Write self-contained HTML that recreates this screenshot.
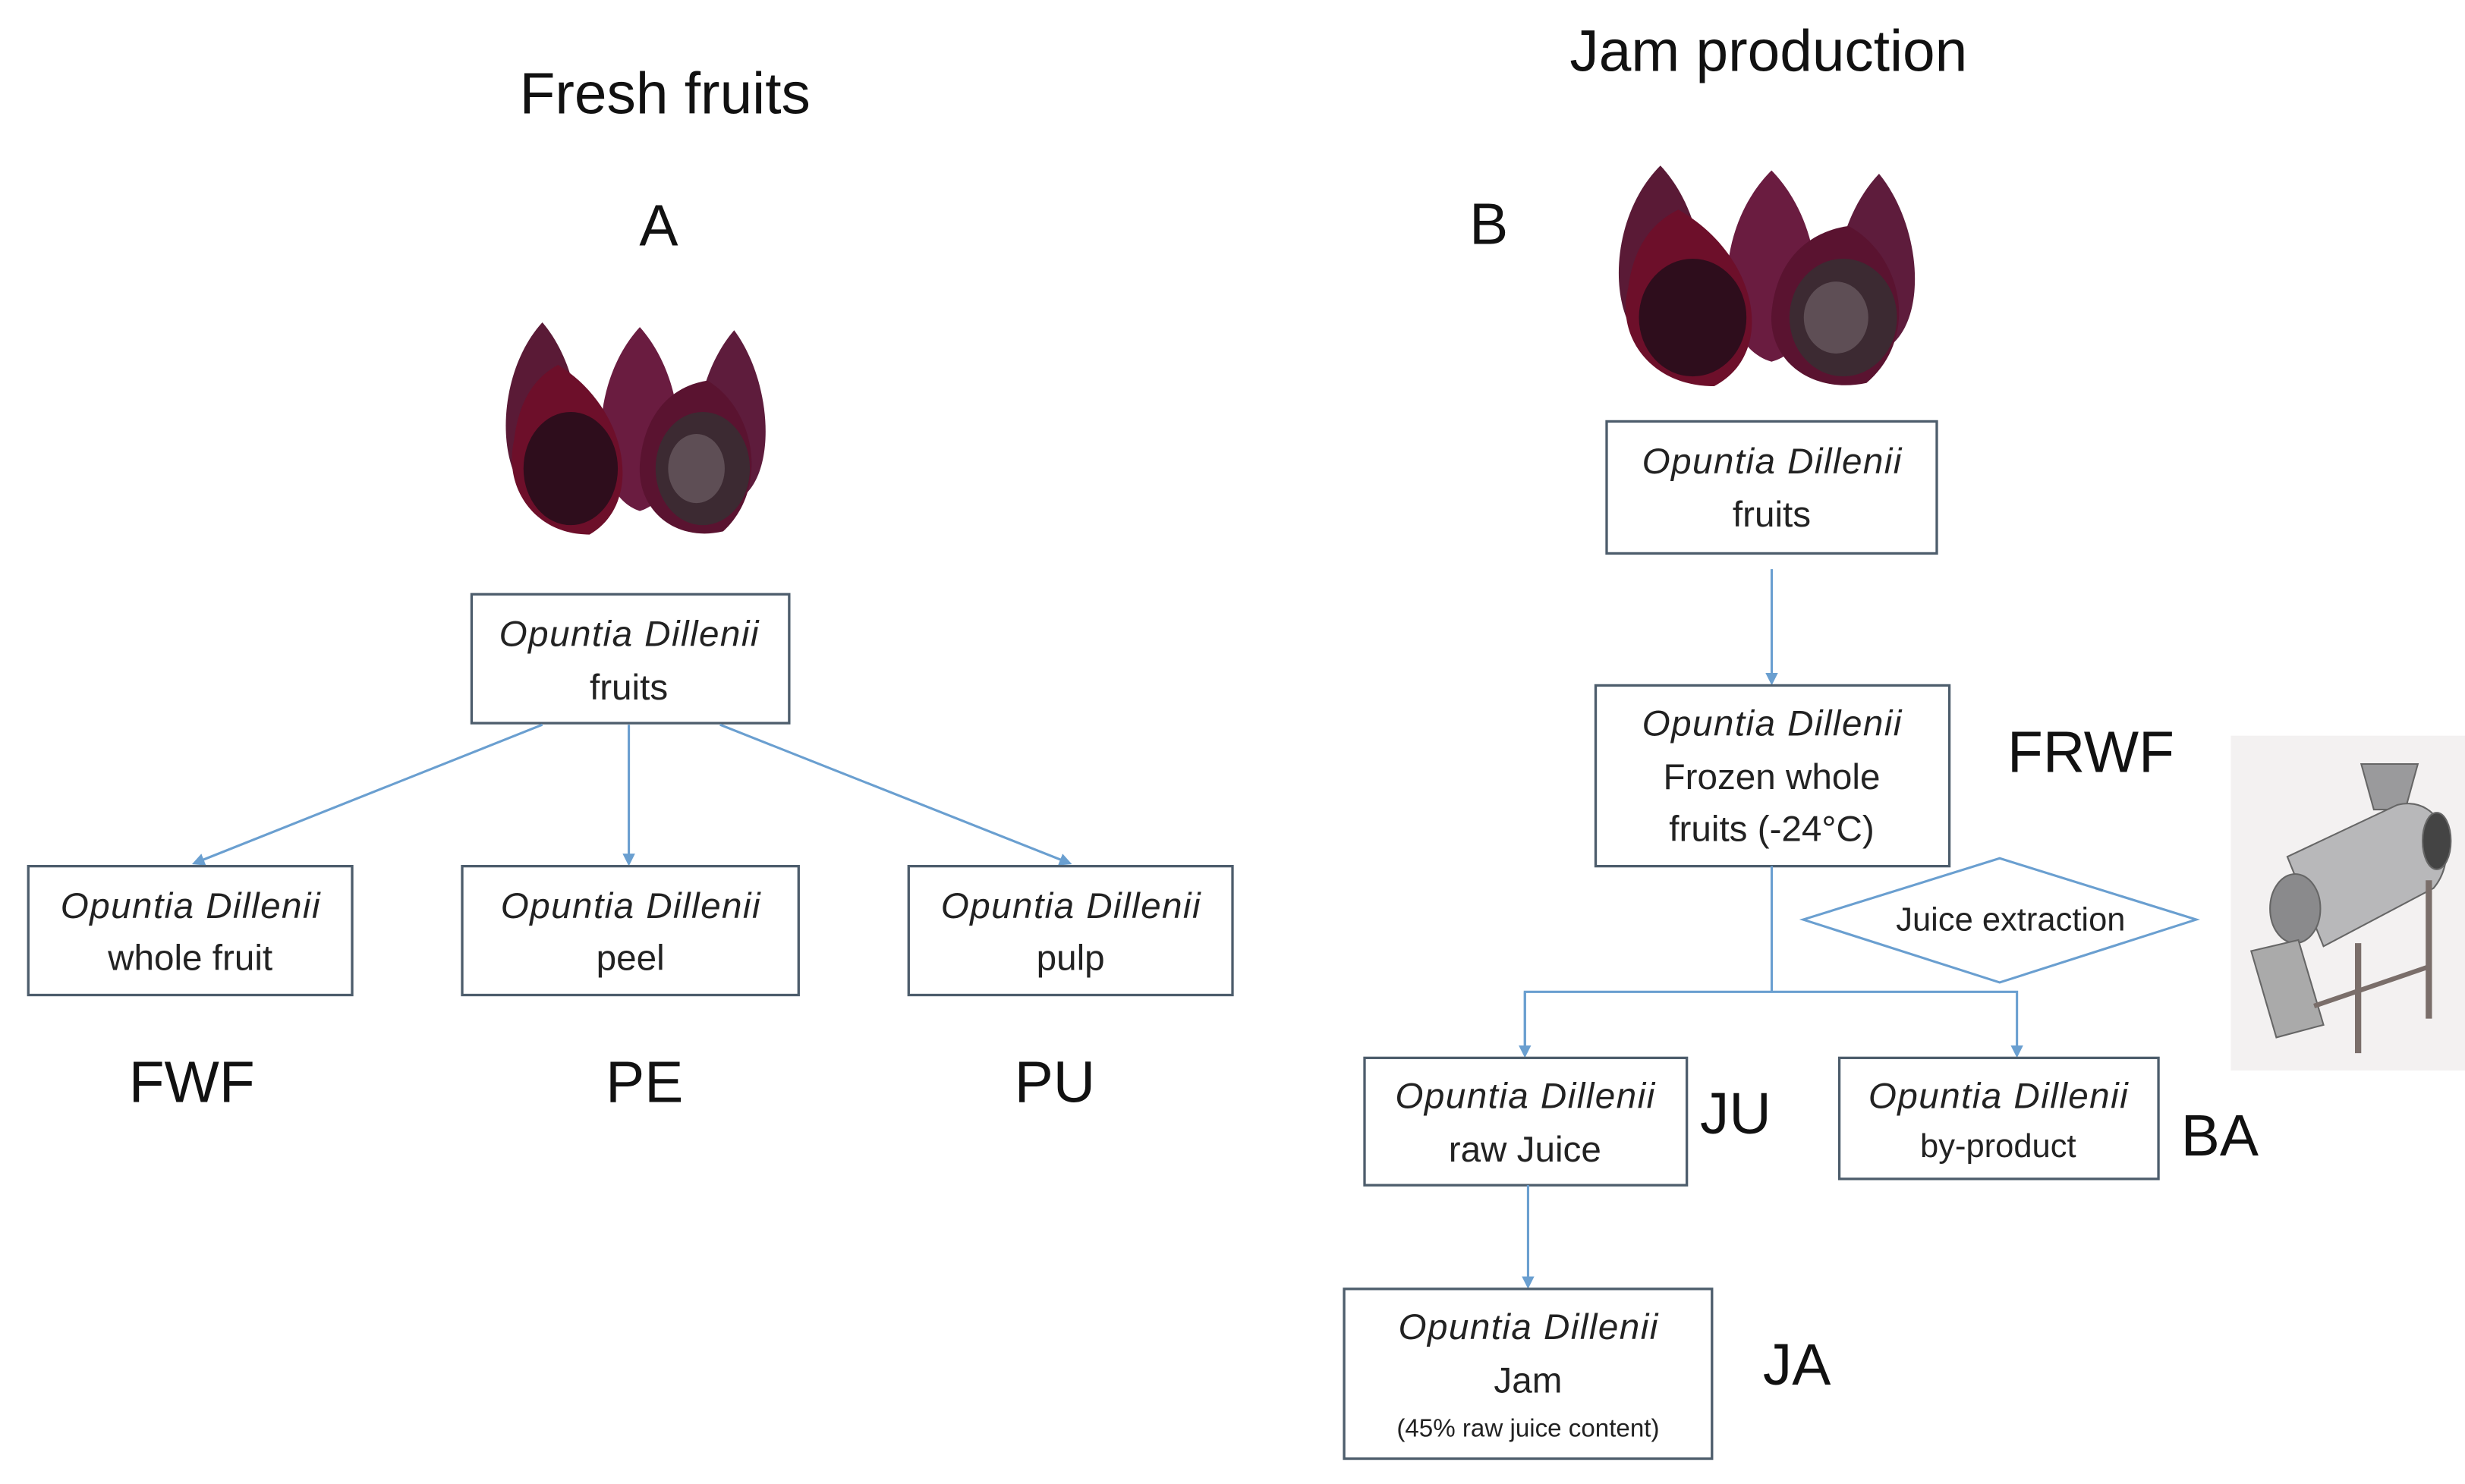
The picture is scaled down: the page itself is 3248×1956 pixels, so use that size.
<!DOCTYPE html>
<html><head><meta charset="utf-8"><style>
html,body{margin:0;padding:0;background:#fff;}
svg{display:block}
text{font-family:"Liberation Sans",sans-serif;fill:#111}
.b{fill:#fff;stroke:#4d5d6c;stroke-width:1.6}
.a{stroke:#6a9fd0;stroke-width:1.5;fill:none}
.t{font-size:23px;text-anchor:middle;fill:#222}
.i{font-style:italic}
.L{font-size:37px;text-anchor:middle}
</style></head><body>
<svg width="3248" height="1956" viewBox="0 0 1568 944" xmlns="http://www.w3.org/2000/svg">
<defs>
<marker id="ar" markerWidth="8" markerHeight="8" refX="6" refY="4" orient="auto" markerUnits="userSpaceOnUse"><path d="M0,0 L8,4 L0,8 Z" fill="#6a9fd0"/></marker>
<g id="fruit">
 <path d="M30,5 C60,40 62,110 30,120 C0,110 -2,40 30,5Z" fill="#5a1a36"/>
 <path d="M92,8 C125,45 125,115 92,125 C60,115 58,45 92,8Z" fill="#6a1c40"/>
 <path d="M152,10 C178,45 180,110 150,120 C120,110 122,45 152,10Z" fill="#5e1c3c"/>
 <path d="M40,32 C85,60 95,120 60,140 C25,140 5,110 12,80 C15,55 25,40 40,32Z" fill="#6d0f2a"/>
 <ellipse cx="48" cy="98" rx="30" ry="36" fill="#2e0d1c"/>
 <path d="M135,42 C165,60 175,110 145,138 C115,145 90,125 92,95 C95,60 115,45 135,42Z" fill="#5a1330"/>
 <ellipse cx="132" cy="98" rx="30" ry="36" fill="#3c2a32"/>
 <ellipse cx="128" cy="98" rx="18" ry="22" fill="#5e4e55"/>
</g>
</defs>
<rect width="1568" height="944" fill="#fff"/>

<text x="423" y="72" class="L">Fresh fruits</text>
<text x="1125" y="45" class="L">Jam production</text>
<text x="419" y="156" class="L">A</text>
<text x="947" y="155" class="L">B</text>

<use href="#fruit" transform="translate(315,200)"/>
<use href="#fruit" transform="translate(1022,100) scale(1.14,1.04)"/>

<g transform="scale(0.96,1)">
</g>
<!-- left tree -->
<rect class="b" x="300" y="378" width="202" height="82"/>
<text x="400" y="411" class="t i" textLength="165">Opuntia Dillenii</text>
<text x="400" y="445" class="t">fruits</text>
<line class="a" x1="345" y1="461" x2="124" y2="549" marker-end="url(#ar)"/>
<line class="a" x1="400" y1="461" x2="400" y2="549" marker-end="url(#ar)"/>
<line class="a" x1="458" y1="461" x2="680" y2="549" marker-end="url(#ar)"/>
<rect class="b" x="18" y="551" width="206" height="82"/>
<text x="121" y="584" class="t i" textLength="165">Opuntia Dillenii</text>
<text x="121" y="617" class="t">whole fruit</text>
<rect class="b" x="294" y="551" width="214" height="82"/>
<text x="401" y="584" class="t i" textLength="165">Opuntia Dillenii</text>
<text x="401" y="617" class="t">peel</text>
<rect class="b" x="578" y="551" width="206" height="82"/>
<text x="681" y="584" class="t i" textLength="165">Opuntia Dillenii</text>
<text x="681" y="617" class="t">pulp</text>
<text x="122" y="701" class="L">FWF</text>
<text x="410" y="701" class="L">PE</text>
<text x="671" y="701" class="L">PU</text>

<!-- right tree -->
<rect class="b" x="1022" y="268" width="210" height="84"/>
<text x="1127" y="301" class="t i" textLength="165">Opuntia Dillenii</text>
<text x="1127" y="335" class="t">fruits</text>
<line class="a" x1="1127" y1="362" x2="1127" y2="434" marker-end="url(#ar)"/>
<rect class="b" x="1015" y="436" width="225" height="115"/>
<text x="1127" y="468" class="t i" textLength="165">Opuntia Dillenii</text>
<text x="1127" y="502" class="t">Frozen whole</text>
<text x="1127" y="535" class="t">fruits (-24°C)</text>
<text x="1330" y="491" class="L">FRWF</text>
<line class="a" x1="1127" y1="551" x2="1127" y2="631"/>
<polyline class="a" points="970,671 970,631 1283,631 1283,671" marker-end="url(#ar)"/>
<line class="a" x1="970" y1="631" x2="970" y2="671" marker-end="url(#ar)"/>
<polygon points="1147,585 1272,546 1397,585 1272,625" fill="#fff" stroke="#6a9fd0" stroke-width="1.5"/>
<text x="1279" y="592" style="font-size:21px;text-anchor:middle;fill:#222">Juice extraction</text>

<!-- machine -->
<rect x="1419" y="468" width="149" height="213" fill="#f3f1f1"/>
<g stroke="#666" stroke-width="1">
 <polygon points="1502,486 1538,486 1530,515 1510,515" fill="#9a9a9c"/>
 <path d="M1455,545 L1525,512 C1555,505 1565,545 1548,565 L1478,602 Z" fill="#b8b8ba"/>
 <ellipse cx="1550" cy="535" rx="9" ry="18" fill="#444"/>
 <ellipse cx="1460" cy="578" rx="16" ry="22" fill="#8a8a8c"/>
 <polygon points="1432,605 1462,598 1478,652 1448,660" fill="#aaa"/>
 <line x1="1500" y1="600" x2="1500" y2="670" stroke="#7a6e6a" stroke-width="4"/>
 <line x1="1545" y1="560" x2="1545" y2="648" stroke="#7a6e6a" stroke-width="4"/>
 <line x1="1472" y1="640" x2="1545" y2="615" stroke="#7a6e6a" stroke-width="3"/>
</g>

<rect class="b" x="868" y="673" width="205" height="81"/>
<text x="970" y="705" class="t i" textLength="165">Opuntia Dillenii</text>
<text x="970" y="739" class="t">raw Juice</text>
<text x="1104" y="721" class="L">JU</text>
<rect class="b" x="1170" y="673" width="203" height="77"/>
<text x="1271" y="705" class="t i" textLength="165">Opuntia Dillenii</text>
<text x="1271" y="736" style="font-size:21px;text-anchor:middle;fill:#222">by-product</text>
<text x="1412" y="735" class="L">BA</text>
<line class="a" x1="972" y1="754" x2="972" y2="818" marker-end="url(#ar)"/>
<rect class="b" x="855" y="820" width="234" height="108"/>
<text x="972" y="852" class="t i" textLength="165">Opuntia Dillenii</text>
<text x="972" y="886" class="t">Jam</text>
<text x="972" y="914" style="font-size:16px;text-anchor:middle;fill:#222">(45% raw juice content)</text>
<text x="1143" y="881" class="L">JA</text>
</svg>
</body></html>
